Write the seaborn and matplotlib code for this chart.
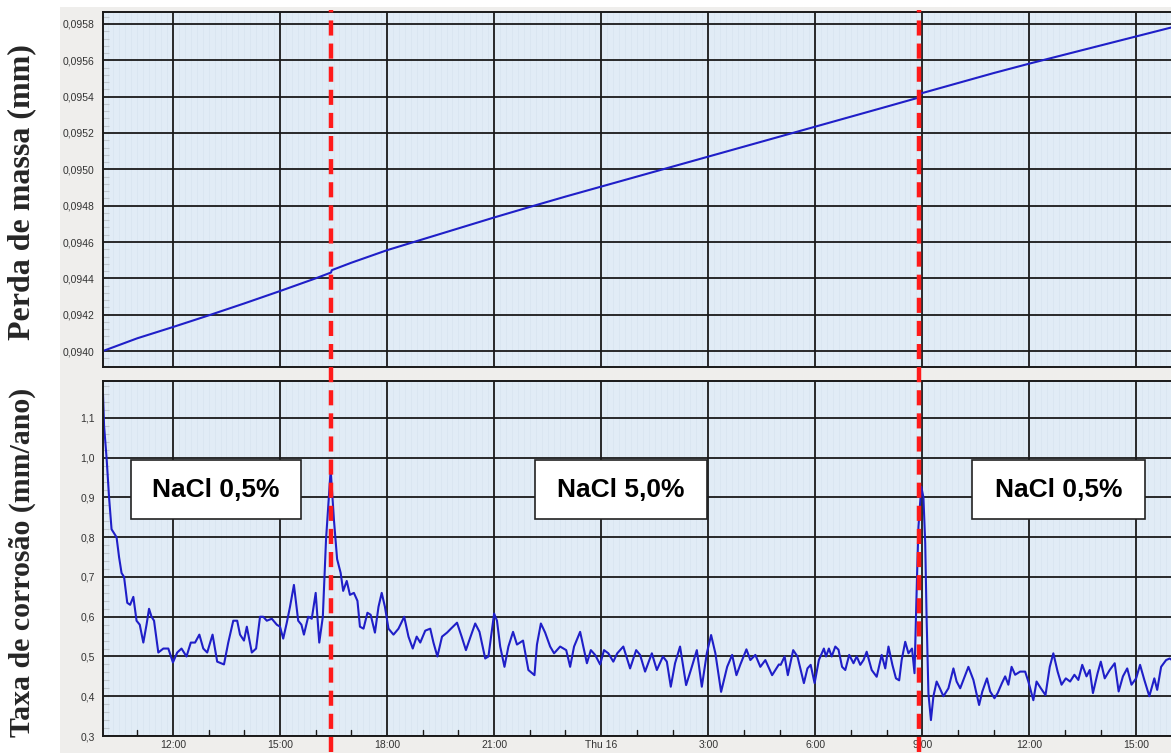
"""Perda de massa e taxa de corrosão — NaCl 0,5% / 5,0% / 0,5%."""

import matplotlib.pyplot as plt
import matplotlib.transforms as mtransforms
import numpy as np
import pandas as pd
import seaborn as sns
from matplotlib.patches import Rectangle
from matplotlib.ticker import FixedLocator, FuncFormatter, MultipleLocator

# horas desde quarta (dia 15) 00:00
MASS_T = [10.04, 11, 12, 13, 14, 15, 16, 16.43, 16.45, 17, 18, 19, 20, 21, 22, 23,
          24, 25, 26, 27, 28, 29, 30, 31, 32, 32.9, 32.92, 33, 34, 35, 36, 37,
          38, 39, 40]
MASS_MM = [0.094000, 0.094070, 0.094132, 0.094196, 0.094262, 0.094330, 0.094400,
           0.094432, 0.094445, 0.094486, 0.094555, 0.094615, 0.094675, 0.094735,
           0.094793, 0.094850, 0.094905, 0.094960, 0.095015, 0.095070, 0.095125,
           0.095180, 0.095235, 0.095290, 0.095345, 0.095395, 0.095415, 0.095420,
           0.095475, 0.095530, 0.095582, 0.095632, 0.095682, 0.095732, 0.095782]

RATE_T = [10.04, 10.07, 10.14, 10.21, 10.28, 10.35, 10.42, 10.49, 10.56, 10.63, 10.72,
          10.80, 10.89, 10.98, 11.07, 11.17, 11.26, 11.33, 11.40, 11.47, 11.59, 11.73,
          11.87, 12.00, 12.12, 12.24, 12.38, 12.50, 12.62, 12.74, 12.85, 12.96, 13.11,
          13.24, 13.43, 13.55, 13.69, 13.80, 13.88, 13.99, 14.07, 14.21, 14.33, 14.44,
          14.53, 14.63, 14.77, 14.91, 15.00, 15.09, 15.19, 15.28, 15.39, 15.51, 15.60,
          15.67, 15.79, 15.89, 16.00, 16.10, 16.20, 16.29, 16.42, 16.51, 16.60, 16.70,
          16.77, 16.87, 16.96, 17.07, 17.17, 17.24, 17.34, 17.45, 17.54, 17.66, 17.76,
          17.85, 17.94, 18.04, 18.18, 18.32, 18.48, 18.60, 18.72, 18.83, 18.93, 19.07,
          19.21, 19.30, 19.41, 19.54, 19.68, 19.79, 19.96, 20.09, 20.21, 20.34, 20.47,
          20.59, 20.75, 20.84, 21.00, 21.08, 21.17, 21.29, 21.40, 21.53, 21.64, 21.81,
          21.96, 22.13, 22.20, 22.31, 22.43, 22.57, 22.68, 22.85, 23.02, 23.13, 23.24,
          23.41, 23.50, 23.60, 23.71, 23.83, 23.97, 24.08, 24.20, 24.34, 24.45, 24.62,
          24.81, 24.98, 25.09, 25.23, 25.42, 25.56, 25.73, 25.84, 25.95, 26.07, 26.21,
          26.38, 26.54, 26.68, 26.82, 26.96, 27.08, 27.20, 27.36, 27.53, 27.67, 27.79,
          27.90, 28.07, 28.18, 28.32, 28.46, 28.60, 28.79, 28.98, 29.03, 29.14, 29.23,
          29.38, 29.50, 29.68, 29.78, 29.87, 29.98, 30.10, 30.24, 30.30, 30.38, 30.46,
          30.56, 30.65, 30.75, 30.84, 30.95, 31.07, 31.16, 31.26, 31.35, 31.44, 31.58,
          31.72, 31.86, 31.96, 32.05, 32.16, 32.26, 32.35, 32.42, 32.52, 32.61, 32.71,
          32.78, 32.85, 32.89, 32.97, 33.03, 33.08, 33.12, 33.17, 33.24, 33.31, 33.40,
          33.49, 33.59, 33.73, 33.87, 33.96, 34.06, 34.15, 34.29, 34.43, 34.59, 34.68,
          34.81, 34.90, 35.02, 35.11, 35.23, 35.32, 35.41, 35.50, 35.60, 35.74, 35.88,
          35.97, 36.11, 36.20, 36.32, 36.45, 36.57, 36.67, 36.79, 36.90, 37.02, 37.14,
          37.26, 37.37, 37.48, 37.60, 37.69, 37.78, 37.91, 38.00, 38.11, 38.25, 38.39,
          38.50, 38.62, 38.74, 38.86, 38.99, 39.10, 39.22, 39.36, 39.50, 39.58, 39.69,
          39.83, 39.93, 40.06]
RATE_MMANO = [1.16, 1.08, 1.00, 0.90, 0.82, 0.81, 0.80, 0.75, 0.71, 0.70, 0.635,
              0.63, 0.65, 0.59, 0.58, 0.535, 0.58, 0.62, 0.60, 0.59, 0.51, 0.52,
              0.52, 0.485, 0.51, 0.52, 0.50, 0.535, 0.535, 0.555, 0.52, 0.51, 0.555,
              0.487, 0.48, 0.535, 0.59, 0.59, 0.555, 0.54, 0.575, 0.51, 0.52, 0.60,
              0.60, 0.59, 0.595, 0.58, 0.575, 0.545, 0.585, 0.625, 0.68, 0.59, 0.58,
              0.555, 0.60, 0.595, 0.66, 0.535, 0.60, 0.795, 0.97, 0.845, 0.745, 0.71,
              0.665, 0.69, 0.655, 0.66, 0.64, 0.575, 0.57, 0.61, 0.605, 0.56, 0.625,
              0.66, 0.625, 0.57, 0.555, 0.57, 0.60, 0.55, 0.52, 0.55, 0.535, 0.565,
              0.57, 0.535, 0.50, 0.55, 0.56, 0.57, 0.585, 0.55, 0.516, 0.55, 0.583,
              0.562, 0.495, 0.50, 0.608, 0.59, 0.525, 0.474, 0.525, 0.562, 0.53, 0.54,
              0.466, 0.453, 0.53, 0.583, 0.56, 0.525, 0.508, 0.525, 0.516, 0.474, 0.525,
              0.562, 0.525, 0.483, 0.516, 0.504, 0.48, 0.516, 0.508, 0.487, 0.508, 0.525,
              0.47, 0.516, 0.504, 0.462, 0.508, 0.466, 0.50, 0.487, 0.424, 0.483, 0.525,
              0.428, 0.474, 0.516, 0.424, 0.508, 0.554, 0.508, 0.411, 0.474, 0.504, 0.453,
              0.48, 0.518, 0.491, 0.504, 0.474, 0.491, 0.453, 0.48, 0.479, 0.50, 0.453,
              0.516, 0.50, 0.433, 0.47, 0.479, 0.433, 0.491, 0.52, 0.50, 0.52, 0.50,
              0.525, 0.517, 0.474, 0.466, 0.504, 0.483, 0.50, 0.479, 0.491, 0.512, 0.466,
              0.449, 0.504, 0.47, 0.525, 0.479, 0.445, 0.44, 0.491, 0.537, 0.508, 0.52,
              0.458, 0.70, 0.826, 0.927, 0.90, 0.785, 0.592, 0.407, 0.34, 0.40, 0.437,
              0.42, 0.40, 0.42, 0.47, 0.437, 0.42, 0.441, 0.474, 0.441, 0.378, 0.412,
              0.445, 0.412, 0.395, 0.408, 0.433, 0.45, 0.429, 0.474, 0.454, 0.462, 0.462,
              0.437, 0.39, 0.437, 0.42, 0.403, 0.474, 0.508, 0.462, 0.429, 0.445, 0.437,
              0.454, 0.441, 0.479, 0.45, 0.466, 0.408, 0.458, 0.487, 0.445, 0.466, 0.483,
              0.412, 0.45, 0.47, 0.429, 0.445, 0.479, 0.441, 0.40, 0.445, 0.416, 0.474,
              0.491, 0.495, 0.487]

TICK_HOURS = [12, 15, 18, 21, 24, 27, 30, 33, 36, 39]
TICK_LABELS = ["12:00", "15:00", "18:00", "21:00", "Thu 16", "3:00", "6:00",
               "9:00", "12:00", "15:00"]
CHANGE_HOURS = [16.43, 32.9]

# faixas de solução: (inicio, fim) em horas, texto
REGIONS = [(10.82, 15.59, "NaCl 0,5%"), (22.15, 26.97, "NaCl 5,0%"),
           (34.40, 39.25, "NaCl 0,5%")]

BG = "#e1ecf6"
LINE = "#1f1fc8"
GRID = "#1a1a1a"

sns.set_style("white")
plt.rcParams["font.family"] = ["Liberation Sans", "DejaVu Sans"]

mass = pd.DataFrame({"t": MASS_T, "v": MASS_MM})
rate = pd.DataFrame({"t": RATE_T, "v": RATE_MMANO})

fig = plt.figure(figsize=(11.71, 7.53), dpi=100)
fig.patches.append(Rectangle((60 / 1171, 0), 1, 1 - 7 / 753, transform=fig.transFigure,
                             facecolor="#efeeec", edgecolor="none", zorder=-5))

left, width = 103 / 1171, 1 - 103 / 1171 + 0.001
ax1 = fig.add_axes([left, 1 - 367 / 753, width, 355 / 753])
ax2 = fig.add_axes([left, 1 - 736 / 753, width, 355 / 753])


def comma(fmt):
    return FuncFormatter(lambda v, _: fmt.format(v).replace(".", ","))


for ax in (ax1, ax2):
    ax.set_facecolor(BG)
    ax.set_xlim(10.04, 40.0)
    ax.xaxis.set_major_locator(FixedLocator(TICK_HOURS))
    ax.xaxis.set_minor_locator(MultipleLocator(1 / 6))
    ax.grid(True, which="major", color=GRID, lw=1.3)
    ax.grid(True, which="minor", axis="x", color="#d8e4ef", lw=0.5)
    ax.set_axisbelow(True)
    for s in ax.spines.values():
        s.set_color(GRID)
        s.set_linewidth(1.4)
    ax.spines["right"].set_visible(False)
    ax.tick_params(axis="y", which="major", direction="out", length=5, width=1,
                   color=GRID, labelsize=7.5, labelcolor="#333333", pad=1)
    ax.tick_params(axis="y", which="minor", direction="in", length=4, width=0.8,
                   color="#c0c8d0", left=True)

sns.lineplot(data=mass, x="t", y="v", ax=ax1, color=LINE, linewidth=1.5)
ax1.set_ylim(0.093912, 0.095866)
ax1.yaxis.set_major_locator(MultipleLocator(0.0002))
ax1.yaxis.set_minor_locator(MultipleLocator(0.00004))
ax1.yaxis.set_major_formatter(comma("{:.4f}"))
ax1.tick_params(axis="x", which="both", bottom=False, labelbottom=False)
ax1.set_xlabel("")
ax1.set_ylabel("")

sns.lineplot(data=rate, x="t", y="v", ax=ax2, color=LINE, linewidth=1.5)
ax2.set_ylim(0.3, 1.193)
ax2.yaxis.set_major_locator(MultipleLocator(0.1))
ax2.yaxis.set_minor_locator(MultipleLocator(0.02))
ax2.yaxis.set_major_formatter(comma("{:.1f}"))
ax2.set_xticklabels(TICK_LABELS)
ax2.tick_params(axis="x", which="major", direction="in", length=6, width=1,
                color=GRID, labelsize=7.5, labelcolor="#333333", pad=3)
ax2.tick_params(axis="x", which="minor", bottom=False)
for h in np.arange(11, 40):
    if h not in TICK_HOURS:
        ax2.axvline(h, ymin=0, ymax=0.018, color=GRID, lw=1)
ax2.set_xlabel("")
ax2.set_ylabel("")

for x0, x1, label in REGIONS:
    ax2.add_patch(Rectangle((x0, 0.846), x1 - x0, 0.148, facecolor="white",
                            edgecolor="#222222", lw=1.2, zorder=4))
    ax2.text((x0 + x1) / 2, 0.92, label, ha="center", va="center", fontsize=19,
             fontweight="bold", color="black", zorder=5)

trans = mtransforms.blended_transform_factory(ax2.transData, ax2.transAxes)
for h in CHANGE_HOURS:
    ax2.plot([h, h], [-0.045, 2.045], transform=trans, color="#ff1a1a", lw=3.2,
             linestyle=(0, (3.4, 1.8)), clip_on=False, zorder=6)

fig.text(22 / 1171, 1 - 192 / 753, "Perda de massa (mm)", rotation=90, ha="center",
         va="center", fontsize=23, fontweight="bold", family="Liberation Serif")
fig.text(22 / 1171, 1 - 562 / 753, "Taxa de corrosão (mm/ano)", rotation=90,
         ha="center", va="center", fontsize=21.5, fontweight="bold",
         family="Liberation Serif")

fig.savefig("out.png", dpi=100)
